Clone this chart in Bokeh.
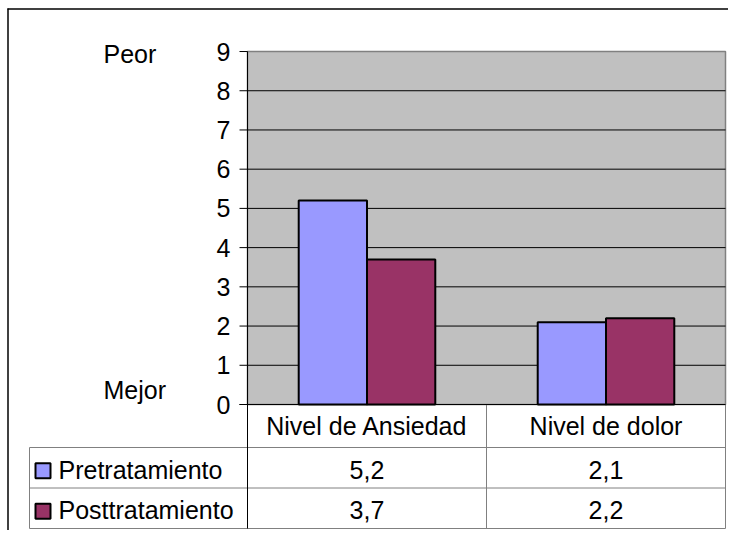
from bokeh.plotting import figure
from bokeh.embed import file_html
from bokeh.resources import INLINE
from bokeh.core.properties import value

# ---- data ----
categories = ["Nivel de Ansiedad", "Nivel de dolor"]
series_names = ["Pretratamiento", "Posttratamiento"]
pre_values = [5.2, 2.1]
post_values = [3.7, 2.2]
y_ticks = [0, 1, 2, 3, 4, 5, 6, 7, 8, 9]
top_label = "Peor"
bottom_label = "Mejor"
colors = ["#9999FF", "#993366"]

# ---- layout constants (pixels) ----
W, H = 728, 530
CAT_PX = 239.0          # width of one category
UNIT_PX = 39.22         # pixels per y unit
X0_PX = 247.0           # canvas x of plot-area left edge
Y0_PX = 404.0           # canvas y (from top) of value 0

def dx(px):             # pixel offset -> data x units
    return px / CAT_PX

def dy(px):
    return px / UNIT_PX

x_start = -X0_PX / CAT_PX
x_end = (W - X0_PX) / CAT_PX
y_end = Y0_PX / UNIT_PX
y_start = -(H - Y0_PX) / UNIT_PX

FONT = value("Liberation Sans")
FS = "25px"

p = figure(width=W, height=H, x_range=(x_start, x_end), y_range=(y_start, y_end),
           x_axis_type=None, y_axis_type=None, toolbar_location=None,
           output_backend="svg", min_border=0, outline_line_color=None,
           background_fill_color="white", border_fill_color="white")

n = len(categories)
ymax = max(y_ticks)

# table geometry (data units)
row_h = dy(40.5)
hdr_h = dy(43)
tbl_left = -dx(218)
r1 = -hdr_h
r2 = r1 - row_h
r3 = r2 - row_h

# plot area
p.quad(left=[0], right=[n], bottom=[0], top=[ymax], fill_color="#C0C0C0",
       line_color="#808080", line_width=1.5)
# gridlines
grid_y = [t for t in y_ticks if 0 < t < ymax]
p.segment(x0=[0] * len(grid_y), x1=[n] * len(grid_y), y0=grid_y, y1=grid_y,
          line_color="black", line_width=1)

# bars
w = 1 / 3.5
pre_x = [i + 0.5 - w / 2 for i in range(n)]
post_x = [i + 0.5 + w / 2 for i in range(n)]
p.vbar(x=pre_x, top=pre_values, width=w, bottom=0, fill_color=colors[0],
       line_color="black", line_width=2)
p.vbar(x=post_x, top=post_values, width=w, bottom=0, fill_color=colors[1],
       line_color="black", line_width=2)

# table lines (gray)
hy = [r1, r2, r3]
p.segment(x0=[tbl_left] * 3, x1=[n] * 3, y0=hy, y1=hy, line_color="#808080", line_width=1)
vx = [tbl_left] + [float(i) for i in range(1, n + 1)]
vy0 = [r1] + [0] * n
p.segment(x0=vx, x1=vx, y0=vy0, y1=[r3] * len(vx), line_color="#808080", line_width=1)

# axes (black)
p.segment(x0=[0], x1=[0], y0=[ymax], y1=[r3], line_color="black", line_width=1)
p.segment(x0=[-dx(8)], x1=[n], y0=[0], y1=[0], line_color="black", line_width=1)
p.segment(x0=[-dx(8)] * len(y_ticks), x1=[0] * len(y_ticks), y0=y_ticks, y1=y_ticks,
          line_color="black", line_width=1)

# tick labels
p.text(x=[-dx(17)] * len(y_ticks), y=y_ticks, text=[str(t) for t in y_ticks],
       text_font=FONT, text_font_size=FS, text_align="right", text_baseline="middle",
       text_color="black")

# Peor / Mejor
p.text(x=[-dx(144), -dx(144)], y=[ymax - dy(2), dy(15)], text=[top_label, bottom_label],
       text_font=FONT, text_font_size=FS, text_align="left", text_baseline="middle",
       text_color="black")

# header row: categories
p.text(x=[i + 0.5 for i in range(n)], y=[r1 / 2] * n, text=categories,
       text_font=FONT, text_font_size=FS, text_align="center", text_baseline="middle",
       text_color="black")

# value rows
def fmt(v):
    return f"{v:.1f}".replace(".", ",")

row_y = [(r1 + r2) / 2 - dy(2), (r2 + r3) / 2 - dy(2)]
for vals, ry in zip([pre_values, post_values], row_y):
    p.text(x=[i + 0.5 for i in range(n)], y=[ry] * n, text=[fmt(v) for v in vals],
           text_font=FONT, text_font_size=FS, text_align="center", text_baseline="middle",
           text_color="black")

# legend column
p.rect(x=[tbl_left + dx(13.5)] * 2, y=[ry - dy(1) for ry in row_y], width=15, height=15,
       width_units="screen", height_units="screen", fill_color=colors,
       line_color="black", line_width=2)
p.text(x=[tbl_left + dx(29)] * 2, y=row_y, text=series_names,
       text_font=FONT, text_font_size=FS, text_align="left", text_baseline="middle",
       text_color="black")

# chart-area border (left and top)
p.segment(x0=[x_start + dx(7.5), x_start + dx(7)], x1=[x_start + dx(7.5), x_end],
          y0=[y_start, y_end - dy(8.5)], y1=[y_end - dy(8), y_end - dy(8.5)],
          line_color="black", line_width=1.5)

open("out.html", "w").write(file_html(p, INLINE))
